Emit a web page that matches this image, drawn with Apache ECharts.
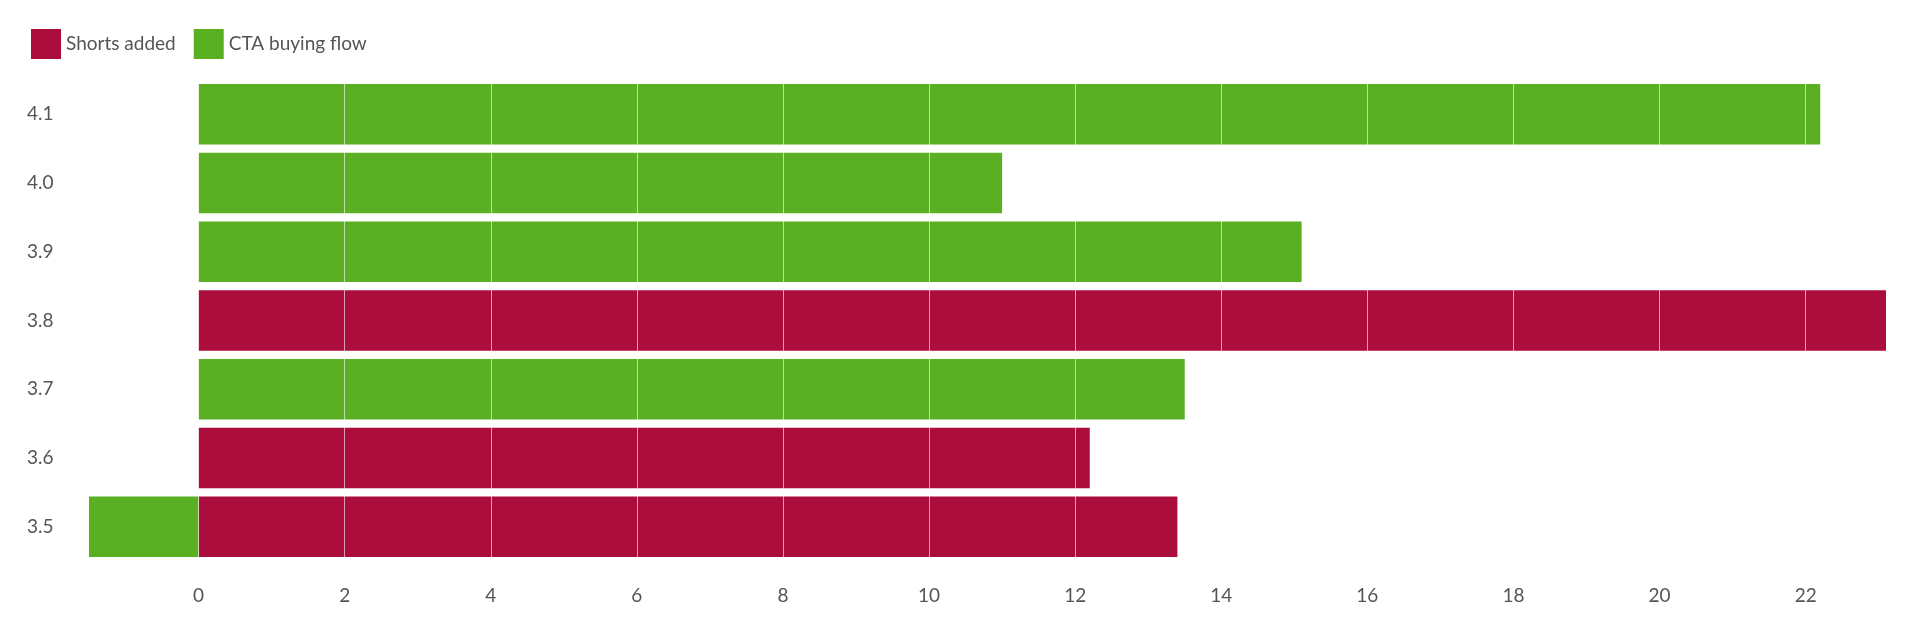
<!DOCTYPE html>
<html>
<head>
<meta charset="utf-8">
<script src="https://cdn.jsdelivr.net/npm/echarts@6/dist/echarts.min.js"></script>
<style>html,body{margin:0;padding:0;background:#fff}#chart{width:1920px;height:632px}</style>
</head>
<body>
<div id="chart"></div>
<script>
var categories = ['3.5', '3.6', '3.7', '3.8', '3.9', '4.0', '4.1'];
var shortsAdded = [13.4, 12.2, 0, 23.1, 0, 0, 0];
var ctaFlow = [-1.5, 0, 13.5, 0, 15.1, 11.0, 22.2];
var xTicks = [0, 2, 4, 6, 8, 10, 12, 14, 16, 18, 20, 22];

var chart = echarts.init(document.getElementById('chart'));
var font = 'Lato, "Noto Sans", sans-serif';
var option = {
    animation: false,
    textStyle: { fontFamily: font },
    legend: {
        left: 26, top: 24,
        itemWidth: 30, itemHeight: 30, itemGap: 18,
        icon: 'rect',
        textStyle: { fontSize: 19, color: '#555', fontFamily: font },
        data: ['Shorts added', 'CTA buying flow']
    },
    grid: { left: 89, right: 34, top: 80, bottom: 71 },
    xAxis: {
        type: 'value', min: -1.5, max: 23.1,
        axisLine: { show: false }, axisTick: { show: false },
        splitLine: { show: false },
        axisLabel: { customValues: xTicks, color: '#555', fontSize: 19, margin: 25, fontFamily: font }
    },
    yAxis: {
        type: 'category', data: categories,
        axisLine: { show: false }, axisTick: { show: false },
        axisLabel: { align: 'left', margin: 62, color: '#555', fontSize: 19, fontFamily: font }
    },
    series: [
        {
            name: 'Shorts added', type: 'bar', stack: 'a',
            barCategoryGap: '12%',
            itemStyle: { color: '#AB0D3C' },
            data: shortsAdded
        },
        {
            name: 'CTA buying flow', type: 'bar', stack: 'a',
            barCategoryGap: '12%',
            itemStyle: { color: '#5BAF22' },
            data: ctaFlow,
            markLine: {
                silent: true, symbol: 'none', z: 10,
                label: { show: false },
                lineStyle: { color: 'rgba(255,255,255,0.6)', type: 'solid', width: 1 },
                data: xTicks.map(function (v) { return { xAxis: v }; })
            }
        }
    ]
};
chart.setOption(option);
window.addEventListener('resize', chart.resize);
</script>
</body>
</html>
